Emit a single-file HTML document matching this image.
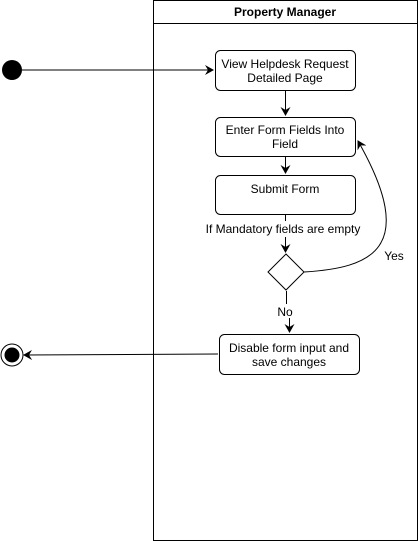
<!DOCTYPE html>
<html><head><style>
body{margin:0;background:#fff;}
svg{display:block;font-family:"Liberation Sans",Arial,sans-serif;}
</style></head><body>
<svg width="418" height="541" viewBox="0 0 418 541">
<defs><marker id="a" markerWidth="10" markerHeight="10" refX="8" refY="5" orient="auto" markerUnits="userSpaceOnUse"><path d="M0,0 L9,5 L0,10 L3,5 Z" fill="#000"/></marker></defs>
<rect x="153.5" y="0.5" width="264" height="540" fill="#fff" stroke="#000"/>
<line x1="153.5" y1="23.5" x2="417.5" y2="23.5" stroke="#000"/>
<text x="285" y="16" font-size="12" font-weight="bold" text-anchor="middle">Property Manager</text>
<circle cx="12" cy="70" r="10" fill="#000"/>
<line x1="22" y1="70" x2="213" y2="70" stroke="#000" marker-end="url(#a)"/>
<g fill="#fff" stroke="#000">
<rect x="215.5" y="50.5" width="140" height="40" rx="5"/>
<rect x="215.5" y="117.5" width="140" height="39" rx="5"/>
<rect x="215.5" y="175.5" width="140" height="39" rx="5"/>
<rect x="219.5" y="334.5" width="140" height="40" rx="5"/>
<path d="M286,254 L304,272 L286,290 L268,272 Z"/>
</g>
<g font-size="12" text-anchor="middle">
<text x="285" y="68">View Helpdesk Request</text>
<text x="285" y="82">Detailed Page</text>
<text x="285" y="134">Enter Form Fields Into</text>
<text x="285" y="148">Field</text>
<text x="285" y="193">Submit Form</text>
<text x="289" y="352">Disable form input and</text>
<text x="289" y="366">save changes</text>
<text x="283" y="233">If Mandatory fields are empty</text>
<text x="394" y="260">Yes</text>
<text x="285" y="316">No</text>
</g>
<g stroke="#000" fill="none">
<line x1="285.5" y1="91" x2="285.5" y2="115" marker-end="url(#a)"/>
<line x1="285.5" y1="157" x2="285.5" y2="173" marker-end="url(#a)"/>
<line x1="285.5" y1="215" x2="285.5" y2="221"/>
<line x1="285.5" y1="237" x2="285.5" y2="252" marker-end="url(#a)"/>
<line x1="286.5" y1="291" x2="286.5" y2="304"/>
<line x1="289.5" y1="318" x2="289.5" y2="332" marker-end="url(#a)"/>
<path d="M304,272 C 370,268 420,250 358,141" marker-end="url(#a)"/>
<line x1="218" y1="354" x2="24" y2="355" marker-end="url(#a)"/>
<circle cx="12" cy="355" r="11"/>
</g>
<circle cx="12" cy="355" r="7.5" fill="#000"/>
</svg>
</body></html>
